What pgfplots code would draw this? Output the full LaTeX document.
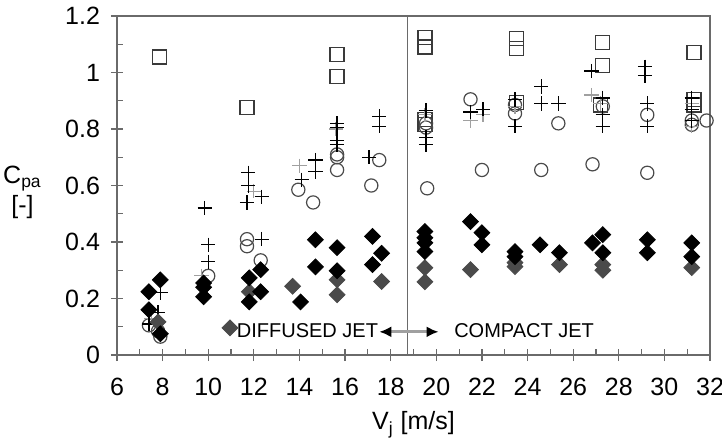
\documentclass[border=0pt]{standalone}
\usepackage{fontspec}
\setmainfont{Liberation Sans}
\usepackage{pgfplots}
\pgfplotsset{compat=1.18}
\usetikzlibrary{arrows.meta}

\definecolor{axgray}{HTML}{6A6A6A}
\definecolor{sqcol}{HTML}{3A3A3A}
\definecolor{circol}{HTML}{4A4A4A}
\definecolor{pluslight}{HTML}{A0A0A0}
\definecolor{diadark}{HTML}{4A4A4A}

\begin{document}
\begin{tikzpicture}
\path[use as bounding box] (-58.5pt,-44.5pt) rectangle (302.5pt,177.5pt);
\begin{axis}[
    scale only axis, width=296.5pt, height=169.5pt,
    xmin=6, xmax=32, ymin=0, ymax=1.2,
    xtick={6,8,10,12,14,16,18,20,22,24,26,28,30,32},
    ytick={0,0.2,0.4,0.6,0.8,1,1.2},
    minor x tick num=1, minor y tick num=1,
    xtick pos=bottom, ytick pos=left,
    tick align=center, major tick length=6pt, minor tick length=3pt,
    minor x tick style={yshift=1.5pt}, minor y tick style={xshift=1.5pt},
    axis line style={axgray, line width=0.6pt},
    every tick/.style={axgray, line width=0.6pt},
    /pgf/number format/assume math mode=true,
    tick label style={font=\fontsize{12.5}{14}\selectfont},
    yticklabel style={xshift=-2pt},
    xticklabel style={yshift=-5pt},
    xlabel={V\textsubscript{j} [m/s]},
    xlabel style={font=\fontsize{12.5}{14}\selectfont, yshift=-1pt},
    ylabel={C\textsubscript{pa}\\{}[-]},
    every axis y label/.style={at={(rel axis cs:-0.115,0.48)}, anchor=east,
        align=center, font=\fontsize{12.5}{15}\selectfont},
    clip=false,
]
% divider between diffused and compact jet
\addplot[axgray, line width=0.6pt] coordinates {(18.75,0) (18.75,1.2)};

% open squares
\addplot[only marks, mark=square, mark size=3.5pt, mark options={sqcol, line width=0.6pt}] coordinates {
 (7.85,1.055) (11.7,0.875) (15.65,1.065) (15.65,0.985)
 (19.5,1.125) (19.5,1.09) (19.5,0.835) (19.5,0.815)
 (23.5,1.12) (23.5,1.085) (23.5,0.895)
 (27.3,1.105) (27.3,1.025) (27.2,0.885)
 (31.3,1.07) (31.3,0.905) (31.3,0.885)
};

% open circles
\addplot[only marks, mark=o, mark size=3.3pt, mark options={circol, line width=0.6pt}] coordinates {
 (7.4,0.105) (7.8,0.085) (7.9,0.065) (10.0,0.28) (11.7,0.41) (11.7,0.385) (12.3,0.335)
 (13.95,0.585) (14.6,0.54) (15.65,0.71) (15.65,0.70) (15.65,0.655) (17.15,0.6) (17.5,0.69)
 (19.55,0.82) (19.55,0.805) (19.6,0.59) (21.5,0.905) (22.0,0.655) (23.45,0.885) (23.45,0.855)
 (24.6,0.655) (25.35,0.82) (26.85,0.675) (27.3,0.88) (29.25,0.645) (29.25,0.85)
 (31.2,0.83) (31.2,0.815) (31.85,0.83)
};

% light plus
\addplot[only marks, mark=+, mark size=3.6pt, mark options={pluslight, line width=0.6pt}] coordinates {
 (7.5,0.13) (9.7,0.28) (12.0,0.58) (14.0,0.67) (15.6,0.80) (19.5,0.85) (21.5,0.83)
 (22.05,0.85) (23.45,0.88) (26.8,0.92) (27.2,0.89) (31.2,0.89) (31.2,0.81)
};

% dark plus
\addplot[only marks, mark=+, mark size=3.6pt, mark options={black, line width=0.6pt}] coordinates {
 (7.9,0.22) (7.8,0.15) (7.4,0.11) (9.85,0.52) (10.0,0.39) (10.0,0.33)
 (11.75,0.645) (11.75,0.6) (11.7,0.54) (12.35,0.56) (12.35,0.41)
 (14.7,0.69) (14.7,0.65) (14.1,0.62) (15.65,0.82) (15.65,0.805) (15.65,0.76) (15.65,0.745)
 (17.05,0.70) (17.5,0.845) (17.5,0.81) (19.55,0.865) (19.55,0.77) (19.55,0.745)
 (21.5,0.86) (22.05,0.87) (23.45,0.905) (23.45,0.81) (24.6,0.95) (24.6,0.89) (25.35,0.89)
 (26.8,1.005) (27.3,0.91) (27.3,0.85) (27.3,0.81) (29.15,1.02) (29.15,0.99) (29.25,0.89)
 (29.25,0.81) (31.2,0.91) (31.2,0.87) (31.2,0.83)
};

% grey diamonds
\addplot[only marks, mark=square*, mark size=2.8pt, mark options={rotate=45, diadark, fill=diadark, line width=0.4pt}] coordinates {
 (7.8,0.117) (10.95,0.096) (11.8,0.224) (13.7,0.243) (15.65,0.266) (15.65,0.213) (17.6,0.26)
 (19.5,0.309) (19.5,0.259) (21.5,0.302) (23.45,0.327) (23.45,0.313) (25.4,0.32)
 (27.3,0.32) (27.3,0.30) (31.2,0.309)
};

% black diamonds
\addplot[only marks, mark=square*, mark size=2.8pt, mark options={rotate=45, black, fill=black, line width=0.4pt}] coordinates {
 (7.4,0.224) (7.9,0.266) (7.4,0.16) (7.9,0.075) (9.8,0.255) (9.8,0.24) (9.8,0.206)
 (11.8,0.273) (11.8,0.188) (12.3,0.302) (12.3,0.224) (14.05,0.188) (14.7,0.408) (14.7,0.312)
 (15.65,0.38) (15.65,0.298) (17.2,0.42) (17.2,0.32) (17.6,0.36)
 (19.5,0.437) (19.5,0.415) (19.5,0.397) (19.5,0.366) (21.5,0.472) (22.0,0.433) (22.0,0.39)
 (23.45,0.366) (23.45,0.348) (24.55,0.39) (25.4,0.362) (26.85,0.397) (27.3,0.426) (27.3,0.362)
 (29.25,0.408) (29.25,0.362) (31.2,0.397) (31.2,0.348)
};

\node[font=\fontsize{10}{12}\selectfont] at (axis cs:14.35,0.088) {DIFFUSED JET};
\node[font=\fontsize{10}{12}\selectfont] at (axis cs:23.85,0.088) {COMPACT JET};
\draw[pluslight, line width=1.6pt, {Latex[color=black,length=6pt,width=5.5pt]}-{Latex[color=black,length=6pt,width=5.5pt]}]
  (axis cs:17.5,0.082) -- (axis cs:20.1,0.082);
\end{axis}
\end{tikzpicture}
\end{document}
